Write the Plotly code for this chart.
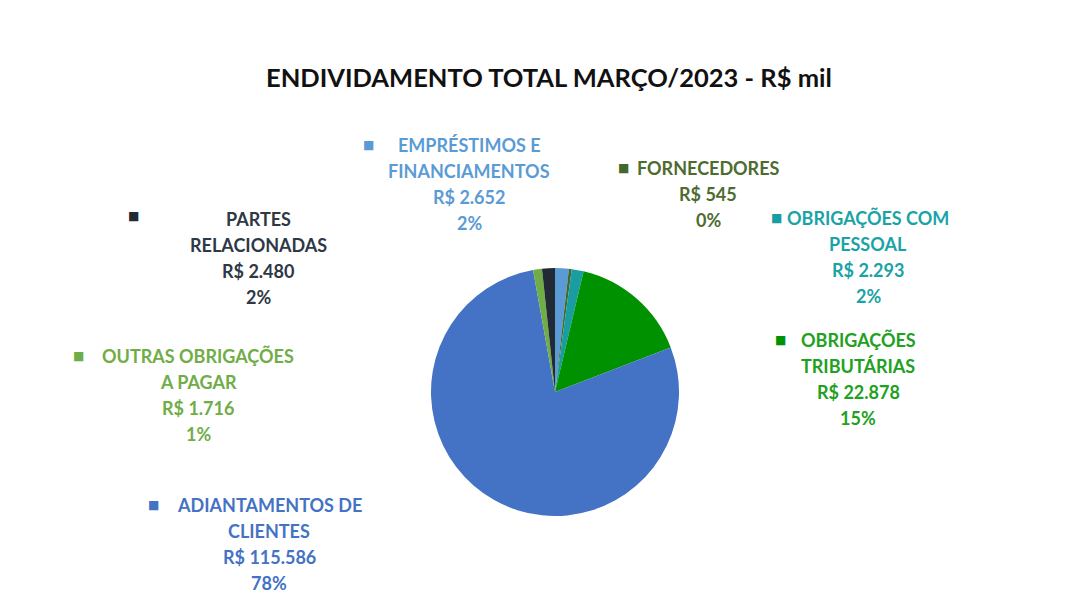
import plotly.graph_objects as go

# ---- data ----
categories = [
    "EMPRÉSTIMOS E FINANCIAMENTOS",
    "FORNECEDORES",
    "OBRIGAÇÕES COM PESSOAL",
    "OBRIGAÇÕES TRIBUTÁRIAS",
    "ADIANTAMENTOS DE CLIENTES",
    "OUTRAS OBRIGAÇÕES A PAGAR",
    "PARTES RELACIONADAS",
]
label_lines = [
    ["EMPRÉSTIMOS E", "FINANCIAMENTOS"],
    ["FORNECEDORES"],
    ["OBRIGAÇÕES COM", "PESSOAL"],
    ["OBRIGAÇÕES", "TRIBUTÁRIAS"],
    ["ADIANTAMENTOS DE", "CLIENTES"],
    ["OUTRAS OBRIGAÇÕES", "A PAGAR"],
    ["PARTES", "RELACIONADAS"],
]
values = [2652, 545, 2293, 22878, 115586, 1716, 2480]
title_text = "ENDIVIDAMENTO TOTAL MARÇO/2023 - R$ mil"

# ---- style ----
slice_colors = ["#5B9BD5", "#43682B", "#1A9DA0", "#009100", "#4472C4", "#70AD47", "#222A35"]
text_colors = ["#5B9BD5", "#4E6B30", "#1AA3A6", "#21A121", "#4472C4", "#70AD47", "#2E3846"]
# label anchor (center x px, first line y px) and marker (x px, y px)
label_pos = [(469, 145), (708, 168), (868, 218), (858, 340), (269, 505), (198, 356), (258, 219)]
marker_pos = [(368, 145), (623, 168), (776, 218), (780, 340), (153, 505), (78, 356), (133, 216)]

W, H = 1084, 603
OFF = 8  # page body margin
FONT = "Lato"
LINE = 26


def px(x):
    return (x - OFF) / W


def py(y):
    return 1 - (y - OFF) / H


total = sum(values)

cx, cy, r = 555, 392, 124
fig = go.Figure(
    go.Pie(
        labels=categories,
        values=values,
        sort=False,
        direction="clockwise",
        rotation=0,
        marker=dict(colors=slice_colors, line=dict(width=0)),
        textinfo="none",
        hoverinfo="label+value+percent",
        showlegend=False,
        domain=dict(x=[px(cx - r), px(cx + r)], y=[py(cy + r), py(cy - r)]),
    )
)

annotations = [
    dict(
        text=title_text, x=px(549), y=py(77), xref="paper", yref="paper",
        showarrow=False, xanchor="center", yanchor="middle",
        font=dict(family=FONT, size=25.5, color="#111111", weight="bold"),
    )
]

for i, v in enumerate(values):
    pct = round(v / total * 100)
    lines = label_lines[i] + ["R$ " + f"{v:,}".replace(",", "."), f"{pct}%"]
    lx, ly = label_pos[i]
    for j, t in enumerate(lines):
        annotations.append(dict(
            text=t, x=px(lx), y=py(ly + j * LINE), xref="paper", yref="paper",
            showarrow=False, xanchor="center", yanchor="middle",
            font=dict(family=FONT, size=18, color=text_colors[i], weight="bold"),
        ))
    mx, my = marker_pos[i]
    annotations.append(dict(
        text="■", x=px(mx), y=py(my), xref="paper", yref="paper",
        showarrow=False, xanchor="center", yanchor="middle",
        font=dict(family="DejaVu Sans", size=12, color=slice_colors[i]),
    ))

fig.update_layout(
    width=W, height=H,
    margin=dict(l=0, r=0, t=0, b=0),
    paper_bgcolor="white", plot_bgcolor="white",
    annotations=annotations,
)

fig.write_html("out.html")
